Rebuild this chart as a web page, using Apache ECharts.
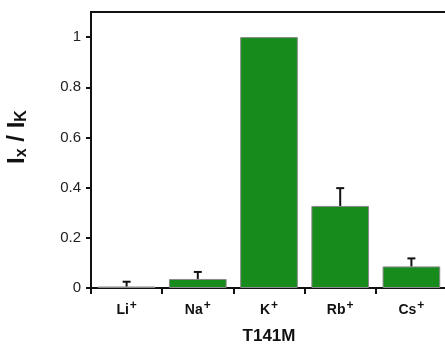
<!DOCTYPE html>
<html>
<head>
<meta charset="utf-8">
<script src="https://cdn.jsdelivr.net/npm/echarts@6/dist/echarts.min.js"></script>
<style>html,body{margin:0;padding:0;background:#fff}#c{width:445px;height:348px}</style>
</head>
<body>
<div id="c"></div>
<script>
var categories = ['Li', 'Na', 'K', 'Rb', 'Cs'];
var values = [0.006, 0.036, 1.0, 0.327, 0.086];
var errorTops = [0.025, 0.064, 1.0, 0.398, 0.118];
var yTicks = [0, 0.2, 0.4, 0.6, 0.8, 1];

var chart = echarts.init(document.getElementById('c'), null, {renderer: 'canvas'});
var font = '"Liberation Sans", Arial, sans-serif';
chart.setOption({
  animation: false,
  grid: {left: 91, top: 12, right: -2, bottom: 60, outerBoundsMode: 'none', containLabel: false, show: true, borderColor: '#111', borderWidth: 2, backgroundColor: 'transparent'},
  xAxis: {
    type: 'category',
    data: categories,
    axisLine: {lineStyle: {color: '#111', width: 2}},
    axisTick: {show: true, length: 6, interval: 0, lineStyle: {color: '#111', width: 2}},
    axisLabel: {
      margin: 12,
      interval: 0,
      formatter: function (v) { return '{b|' + v + '}{s|+}'; },
      rich: {
        b: {fontFamily: font, fontWeight: 'bold', fontSize: 14, color: '#111'},
        s: {fontFamily: font, fontWeight: 'bold', fontSize: 12, color: '#111', verticalAlign: 'top', padding: [0, 0, 8, 1]}
      }
    },
    name: 'T141M',
    nameLocation: 'middle',
    nameGap: 40,
    nameTextStyle: {fontFamily: font, fontWeight: 'bold', fontSize: 17, color: '#111'}
  },
  yAxis: {
    type: 'value',
    min: 0,
    max: 1.1,
    interval: 0.2,
    splitLine: {show: false},
    axisLine: {show: true, lineStyle: {color: '#111', width: 2}},
    axisTick: {show: true, length: 5, customValues: yTicks, lineStyle: {color: '#111', width: 2}},
    axisLabel: {
      fontFamily: font, fontSize: 15, color: '#222', margin: 10,
      customValues: yTicks,
      formatter: function (v) { return String(v); }
    },
    name: '{b|I}{s|x}{b| / I}{s|K}',
    nameLocation: 'middle',
    nameRotate: 90,
    nameGap: 61,
    nameTextStyle: {
      padding: [0, 0, 0, 26],
      rich: {
        b: {fontFamily: font, fontWeight: 'bold', fontSize: 24, color: '#111'},
        s: {fontFamily: font, fontWeight: 'bold', fontSize: 16, color: '#111', verticalAlign: 'bottom', padding: [10, 0, 0, 0]}
      }
    }
  },
  series: [
    {
      type: 'bar',
      data: values,
      barCategoryGap: '19%',
      itemStyle: {color: '#178c1c', borderColor: '#8a8a8a', borderWidth: 1}
    },
    {
      type: 'custom',
      data: categories.map(function (c, i) { return [i, values[i], errorTops[i]]; }),
      renderItem: function (params, api) {
        var base = api.coord([api.value(0), api.value(1)]);
        var top = api.coord([api.value(0), api.value(2)]);
        if (Math.abs(base[1] - top[1]) < 1) return null;
        var hw = 4;
        return {
          type: 'group',
          children: [
            {type: 'line', shape: {x1: base[0], y1: base[1], x2: top[0], y2: top[1]}, style: {stroke: '#111', lineWidth: 2}},
            {type: 'line', shape: {x1: top[0] - hw, y1: top[1], x2: top[0] + hw, y2: top[1]}, style: {stroke: '#111', lineWidth: 2}}
          ]
        };
      },
      z: 3
    }
  ]
});
</script>
</body>
</html>
